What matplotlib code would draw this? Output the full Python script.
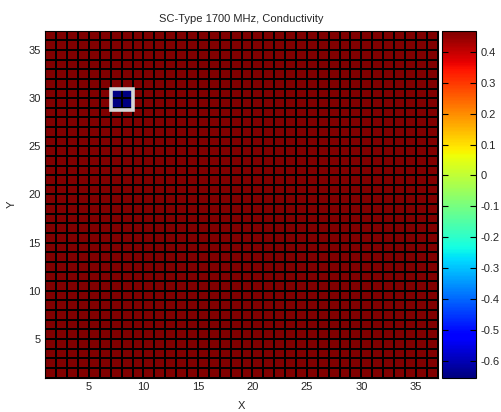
import numpy as np
import matplotlib.pyplot as plt
from matplotlib.patches import Rectangle

# grid of 37 x 37 nodes -> 36 x 36 cells (MATLAB pcolor style)
x_edges = np.arange(1, 38)
y_edges = np.arange(1, 38)

background_value = 0.469
target_value = -0.655
# cells (x, y lower-left corners) holding the low-conductivity target
target_cells = [(7, 29), (8, 29), (7, 30), (8, 30)]

clim = (-0.655, 0.469)
x_ticks = [5, 10, 15, 20, 25, 30, 35]
y_ticks = [5, 10, 15, 20, 25, 30, 35]
cbar_ticks = [-0.6, -0.5, -0.4, -0.3, -0.2, -0.1, 0, 0.1, 0.2, 0.3, 0.4]
cbar_labels = ["-0.6", "-0.5", "-0.4", "-0.3", "-0.2", "-0.1", "0",
               "0.1", "0.2", "0.3", "0.4"]

C = np.full((len(y_edges) - 1, len(x_edges) - 1), background_value)
for cx, cy in target_cells:
    C[cy - 1, cx - 1] = target_value

plt.rcParams['font.family'] = ['Liberation Sans', 'DejaVu Sans']
plt.rcParams['font.size'] = 8

fig = plt.figure(figsize=(5.02, 4.12), dpi=100)
ax = fig.add_axes([0.0906, 0.0837, 0.781, 0.8417])
cax = fig.add_axes([0.8805, 0.0837, 0.0687, 0.8417])

mesh = ax.pcolormesh(x_edges, y_edges, C, cmap='jet', vmin=clim[0], vmax=clim[1],
                     edgecolors='black', linewidth=1.2, antialiased=False)

# highlight frame around the target
ax.add_patch(Rectangle((7, 28.8), 2, 2.2, fill=False, edgecolor='#d6d6d6',
                       linewidth=2.6, zorder=3))

ax.set_xlim(1, 37)
ax.set_ylim(1, 37)
ax.set_xticks(x_ticks)
ax.set_yticks(y_ticks)
ax.tick_params(direction='in', length=0, labelsize=8, labelcolor='#262626')
ax.set_xlabel("X", fontsize=8, color='#262626', labelpad=6)
ax.set_ylabel("Y", fontsize=8, color='#262626', labelpad=8)
ax.set_title("SC-Type 1700 MHz, Conductivity", fontsize=8, color='#262626', pad=6)
for s in ax.spines.values():
    s.set_linewidth(0.8)

cb = fig.colorbar(mesh, cax=cax, ticks=cbar_ticks)
cb.ax.set_yticklabels(cbar_labels)
cb.outline.set_linewidth(0.8)
cb.ax.tick_params(direction='in', length=4, width=0.8, labelsize=8,
                  labelcolor='#262626', left=True, right=True, pad=3)

plt.savefig("out.png", dpi=100)
